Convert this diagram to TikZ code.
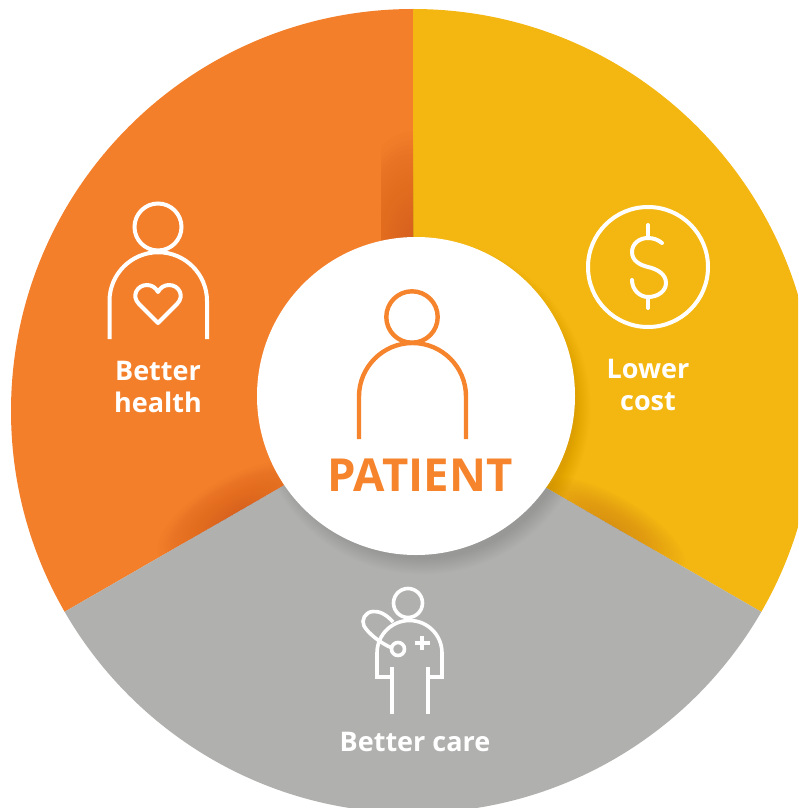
\documentclass[tikz,border=0pt]{standalone}
\usepackage{fontspec}
\setmainfont{Open Sans}
\definecolor{cOrange}{HTML}{F47F2A}
\definecolor{cIcon}{HTML}{F6842C}
\definecolor{cYellow}{HTML}{F4B611}
\definecolor{cGray}{HTML}{B0B0AE}
\definecolor{cBurn}{HTML}{B8401E}
\definecolor{cBurnY}{HTML}{B86A10}
\tikzset{
  iconline/.style={draw=white,line width=4pt,fill=none},
  thinline/.style={draw=white,line width=3.6pt,fill=none},
  patientline/.style={draw=cIcon,line width=4.4pt,fill=none},
  label/.style={text=white,font=\bfseries\fontsize{27}{32}\selectfont,align=center,inner sep=0pt},
}
\begin{document}
\begin{tikzpicture}[x=1pt,y=-1pt]
\useasboundingbox (0,0) rectangle (798,808);
\fill[white] (0,0) rectangle (798,808);
\begin{scope}
\clip (0,0) rectangle (798,808);
\clip (413,411) circle[radius=402];
% sectors
\fill[cOrange] (413,411) -- (413,0) -- (0,0) -- (0,649) -- cycle;
\fill[cYellow] (413,411) -- (413,0) -- (798,0) -- (798,633) -- cycle;
\fill[cGray] (413,411) -- (0,649) -- (0,808) -- (798,808) -- (798,633) -- cycle;
% shading on the orange sector, beside the vertical edge
\begin{scope}
\clip (381,100) rectangle (413,240);
\foreach \i in {1,...,24}{
  \fill[cBurn,opacity=0.019] (413,245) ellipse[x radius={2+2.6*\i},y radius={8+4.4*\i}];
}
\end{scope}
% shading on the orange sector, above the lower edge
\begin{scope}
\clip (413,411) -- (0,649) -- (0,300) -- (300,300) -- cycle;
\foreach \i in {1,...,22}{
  \fill[cBurn,opacity=0.018,rotate around={30:(235,514)}] (235,514) ellipse[x radius={8+3.6*\i},y radius={1+1.6*\i}];
}
\end{scope}
% shading on the yellow sector, above the lower edge
\begin{scope}
\clip (413,411) -- (798,633) -- (798,300) -- (500,300) -- cycle;
\foreach \i in {1,...,22}{
  \fill[cBurnY,opacity=0.018,rotate around={-30:(612,526)}] (612,526) ellipse[x radius={8+3.4*\i},y radius={1+1.3*\i}];
}
\end{scope}
% shadow of the centre disc on yellow and gray
\begin{scope}
\clip (413,411) -- (413,200) -- (798,200) -- (798,808) -- (0,808) -- (0,649) -- cycle;
\foreach \i in {1,...,24}{
  \fill[black,opacity=0.0055] (423,407) circle[radius={151+0.7*\i}];
}
\end{scope}
\end{scope}
% centre disc
\node[circle,fill=white,minimum size=318pt,inner sep=0pt] (disc) at (416,396) {};
% patient icon
\draw[patientline] (412,317) circle[radius=25.7];
\draw[patientline] (359,439) -- (359,396.5) arc[start angle=180,end angle=360,radius=53.5] -- (466,439);
\node[inner sep=0pt,text=cIcon,font=\bfseries\fontsize{45.5}{46}\selectfont,anchor=base] (patient) at (420,491) {PATIENT};
% better health icon
\draw[iconline] (158,227) circle[radius=23.5];
\draw[iconline] (109.5,339) -- (109.5,301) arc[start angle=180,end angle=360,radius=48.75] -- (207,339);
\draw[iconline,line join=round] (158,323) -- (139,304) .. controls (131,296) and (137,285) .. (147,285) .. controls (152,285) and (156,288) .. (158,292) .. controls (160,288) and (164,285) .. (169,285) .. controls (179,285) and (185,296) .. (177,304) -- cycle;
\node[label] (health) at (158,387) {Better\\health};
% lower cost icon
\draw[iconline] (648,267) circle[radius=60];
\draw[iconline,line cap=round] (648,225) -- (648,238);
\draw[iconline,line cap=round] (648,297) -- (648,308);
\draw[iconline,line cap=round] (662,243) .. controls (658,240) and (654,238) .. (648,238) .. controls (639,238) and (632,244) .. (632,252) .. controls (632,261) and (640,265) .. (648,267) .. controls (657,269) and (666,274) .. (666,283) .. controls (666,291) and (658,297) .. (648,297) .. controls (640,297) and (632,290) .. (632,280);
\node[label] (cost) at (648,385) {Lower\\cost};
% better care icon
\draw[thinline] (408,603) circle[radius=14.5];
\draw[thinline] (392,667) -- (392,677) -- (377,677) -- (377,653) arc[start angle=180,end angle=360,radius=32.5] -- (442,677) -- (428,677) -- (428,667);
\draw[thinline] (392,677) -- (392,714);
\draw[thinline] (428,677) -- (428,714);
\draw[thinline] (393,622) .. controls (386,614) and (379,611) .. (373,611.5) .. controls (365,612) and (361,620) .. (364,626) .. controls (368,633) and (380,643) .. (392,648);
\draw[thinline] (398,649) circle[radius=6.5];
\draw[thinline] (422,636) -- (422,650);
\draw[thinline] (414.5,643) -- (429.5,643);
\node[label,anchor=base] (care) at (415,751) {Better care};
\end{tikzpicture}
\end{document}
